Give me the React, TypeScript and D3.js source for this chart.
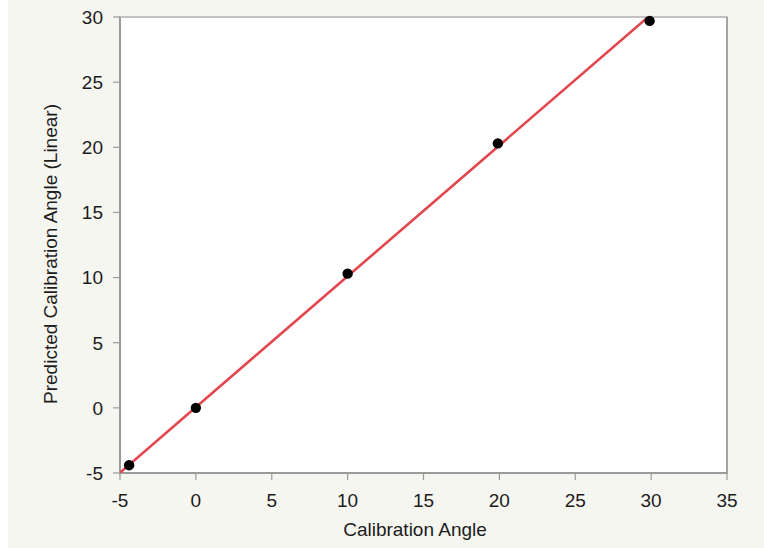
import React from "react";
import * as d3 from "d3";

// Calibration data: reference angle vs. predicted angle (linear model)
const calibrationAngle = [-4.4, 0, 10, 19.9, 29.9];
const predictedAngle = [-4.4, 0, 10.3, 20.3, 29.7];

// Fitted line: predicted = intercept + slope * angle
const fitIntercept = 0.05;
const fitSlope = 1.005;
const fitRange = [-5, 30];

const xTicks = [-5, 0, 5, 10, 15, 20, 25, 30, 35];
const yTicks = [-5, 0, 5, 10, 15, 20, 25, 30];

const W = 764;
const H = 548;
const plot = { left: 120, top: 17, right: 727, bottom: 473 };

export default function App() {
  const x = d3.scaleLinear().domain([-5, 35]).range([plot.left, plot.right]);
  const y = d3.scaleLinear().domain([-5, 30]).range([plot.bottom, plot.top]);

  const fitPts: [number, number][] = fitRange.map((v) => [v, fitIntercept + fitSlope * v]);
  const line = d3
    .line<[number, number]>()
    .x((d) => x(d[0]))
    .y((d) => y(d[1]));

  const font = "'Liberation Sans', Arial, Helvetica, sans-serif";
  const axisColor = "#9a9a9a";
  const textColor = "#1c1c1c";
  const fs = 19;

  return (
    <svg
      width={W}
      height={H}
      style={{ position: "absolute", left: 0, top: 0, display: "block" }}
      fontFamily={font}
    >
      <defs>
        <clipPath id="plot-clip">
          <rect
            x={plot.left}
            y={plot.top}
            width={plot.right - plot.left}
            height={plot.bottom - plot.top}
          />
        </clipPath>
      </defs>
      <rect x={0} y={0} width={W} height={H} fill="#ffffff" />
      <rect x={8} y={0} width={W - 8} height={H} fill="#f6f6f1" />
      <rect
        x={plot.left}
        y={plot.top}
        width={plot.right - plot.left}
        height={plot.bottom - plot.top}
        fill="#ffffff"
        stroke="#b0b0b0"
        strokeWidth={1.5}
      />
      {/* axes */}
      <line x1={plot.left} x2={plot.left} y1={plot.top} y2={plot.bottom} stroke={axisColor} strokeWidth={2} />
      <line x1={plot.left} x2={plot.right} y1={plot.bottom} y2={plot.bottom} stroke={axisColor} strokeWidth={2} />
      <line x1={plot.right} x2={plot.right} y1={plot.top} y2={plot.bottom} stroke={axisColor} strokeWidth={1.5} />

      {xTicks.map((t) => (
        <g key={`x${t}`}>
          <line x1={x(t)} x2={x(t)} y1={plot.bottom} y2={plot.bottom + 7} stroke={axisColor} strokeWidth={1.2} />
          <text
            x={x(t)}
            y={plot.bottom + 34}
            textAnchor="middle"
            fontSize={fs}
            fill={textColor}
          >
            {t}
          </text>
        </g>
      ))}
      {yTicks.map((t) => (
        <g key={`y${t}`}>
          <line x1={plot.left - 7} x2={plot.left} y1={y(t)} y2={y(t)} stroke={axisColor} strokeWidth={1.2} />
          <text
            x={plot.left - 17}
            y={y(t)}
            dy="0.36em"
            textAnchor="end"
            fontSize={fs}
            fill={textColor}
          >
            {t}
          </text>
        </g>
      ))}

      <g clipPath="url(#plot-clip)">
        <path d={line(fitPts) || ""} fill="none" stroke="#e0474f" strokeWidth={2.6} />
      </g>
      {calibrationAngle.map((a, i) => (
        <circle key={i} cx={x(a)} cy={y(predictedAngle[i])} r={5.2} fill="#000" />
      ))}

      <text
        x={415}
        y={536}
        textAnchor="middle"
        fontSize={fs}
        fill={textColor}
      >
        Calibration Angle
      </text>
      <text
        transform={`translate(57, 254) rotate(-90)`}
        textAnchor="middle"
        fontSize={fs}
        fill={textColor}
      >
        Predicted Calibration Angle (Linear)
      </text>
    </svg>
  );
}
